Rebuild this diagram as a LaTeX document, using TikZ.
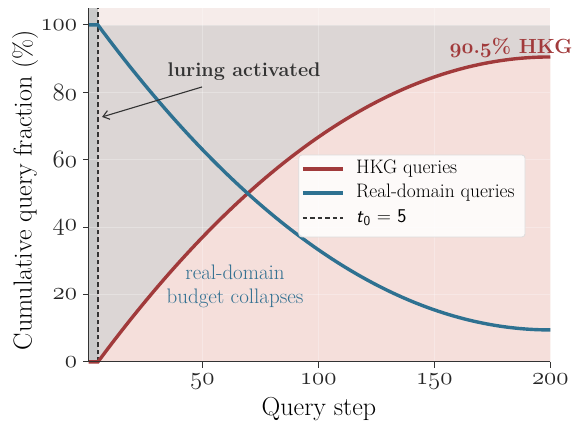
\documentclass[tikz,border=0pt]{standalone}
\usetikzlibrary{arrows.meta}
\definecolor{hkgred}{RGB}{161,58,59}
\definecolor{realblue}{RGB}{46,113,145}
\definecolor{bluetext}{RGB}{50,112,145}
\definecolor{pinkfill}{RGB}{245,223,219}
\definecolor{grayfill}{RGB}{220,214,213}
\definecolor{topfill}{RGB}{246,236,234}
\definecolor{bandgray}{RGB}{201,201,201}
\definecolor{textdark}{RGB}{51,51,51}
\definecolor{legedge}{RGB}{221,221,221}
% old-style figures
\newcommand{\osn}[1]{{\fontencoding{OML}\fontfamily{cmm}\fontshape{it}\selectfont #1}}

\begin{document}
\begin{tikzpicture}[x=2.32pt,y=3.37pt,
    declare function={hkg(\t)=90.5*(1-(1-(\t-5)/195)^2);},
    curve/.style={line width=3.4pt,line cap=butt},
    ticklab/.style={font=\fontsize{23}{26}\selectfont,text=black!85},
    axlab/.style={font=\fontsize{26}{30}\selectfont},
    legtext/.style={font=\fontsize{19.5}{22}\selectfont,anchor=west,inner sep=0pt}]
    \useasboundingbox (-37.2,-18.7) rectangle (212.8,107.4);

    % shaded regions
    \fill[topfill] (5,100) rectangle (200,105);
    \fill[grayfill] (5,0) rectangle (200,100);
    \fill[pinkfill] (5,0) -- plot[domain=5:200,samples=90] (\x,{hkg(\x)}) -- (200,0) -- cycle;
    \fill[bandgray] (1,0) rectangle (5,105);

    % grid
    \foreach \gx in {50,100,150}
        \draw[white,opacity=0.28,line width=0.8pt] (\gx,0) -- (\gx,105);
    \foreach \gy in {20,40,...,100}
        \draw[white,opacity=0.28,line width=0.8pt] (1,\gy) -- (200,\gy);

    % t0 marker
    \draw[textdark,line width=1.3pt,dash pattern=on 4.5pt off 3pt] (5,0) -- (5,105);

    % curves
    \draw[curve,hkgred] (1,0) -- (5,0) -- plot[domain=5:200,samples=90] (\x,{hkg(\x)});
    \draw[curve,realblue] (1,100) -- (5,100) -- plot[domain=5:200,samples=90] (\x,{100-hkg(\x)});

    % axes
    \draw[textdark,line width=1pt] (1,105) -- (1,0) -- (200,0);
    \foreach \ty in {0,20,40,60,80,100} {
        \draw[textdark,line width=1pt] (1,\ty) -- ++(-2.6,0);
        \node[ticklab,anchor=east,inner sep=0pt] (ytick\ty) at (-3.9,\ty) {\osn{\ty}};
    }
    \foreach \tx in {50,100,150,200} {
        \draw[textdark,line width=1pt] (\tx,0) -- ++(0,-1.8);
        \node[ticklab,anchor=north,inner sep=0pt] (xtick\tx) at (\tx,-3.4) {\osn{\tx}};
    }
    \node[axlab] (xlabel) at (100.3,-13.9) {Query step};
    \node[axlab,rotate=90] (ylabel) at (-26.4,51) {Cumulative query fraction (\%)};

    % annotations
    \node[font=\fontsize{19.8}{23}\selectfont\bfseries,text=textdark] (lure) at (68,86.1) {luring activated};
    \coordinate (lurefrom) at (49.9,81.6);
    \coordinate (lureto) at (6.8,72.7);
    \draw[textdark,line width=1.1pt,-{Straight Barb[length=6pt,width=9pt]}] (lurefrom) -- (lureto);
    \node[font=\fontsize{20.5}{24}\selectfont\bfseries,text=hkgred,anchor=east,inner sep=0pt] (final) at (209.6,93.3) {\osn{90}.\osn{5}\% HKG};
    \node[font=\fontsize{21}{24}\selectfont,text=bluetext,align=center] (collapse) at (64.1,22.3) {real-domain\\budget collapses};

    % legend
    \draw[legedge,fill=white,fill opacity=0.85,rounded corners=3pt,line width=0.8pt] (91.6,37.1) rectangle (189.1,61.4);
    \node[legtext] (leghkg) at (116.2,57.3) {HKG queries};
    \node[legtext] (legreal) at (116.2,50.1) {Real-domain queries};
    \node[legtext] (legt) at (116.2,42.7) {\textsf{\textit{t}\textsubscript{0} = 5}};
    \draw[curve,hkgred] (93.4,57.3) -- (110.6,57.3);
    \draw[curve,realblue] (93.4,50.1) -- (110.6,50.1);
    \draw[textdark,line width=1.3pt,dash pattern=on 4.5pt off 3pt] (93.4,42.7) -- (110.6,42.7);
\end{tikzpicture}
\end{document}
